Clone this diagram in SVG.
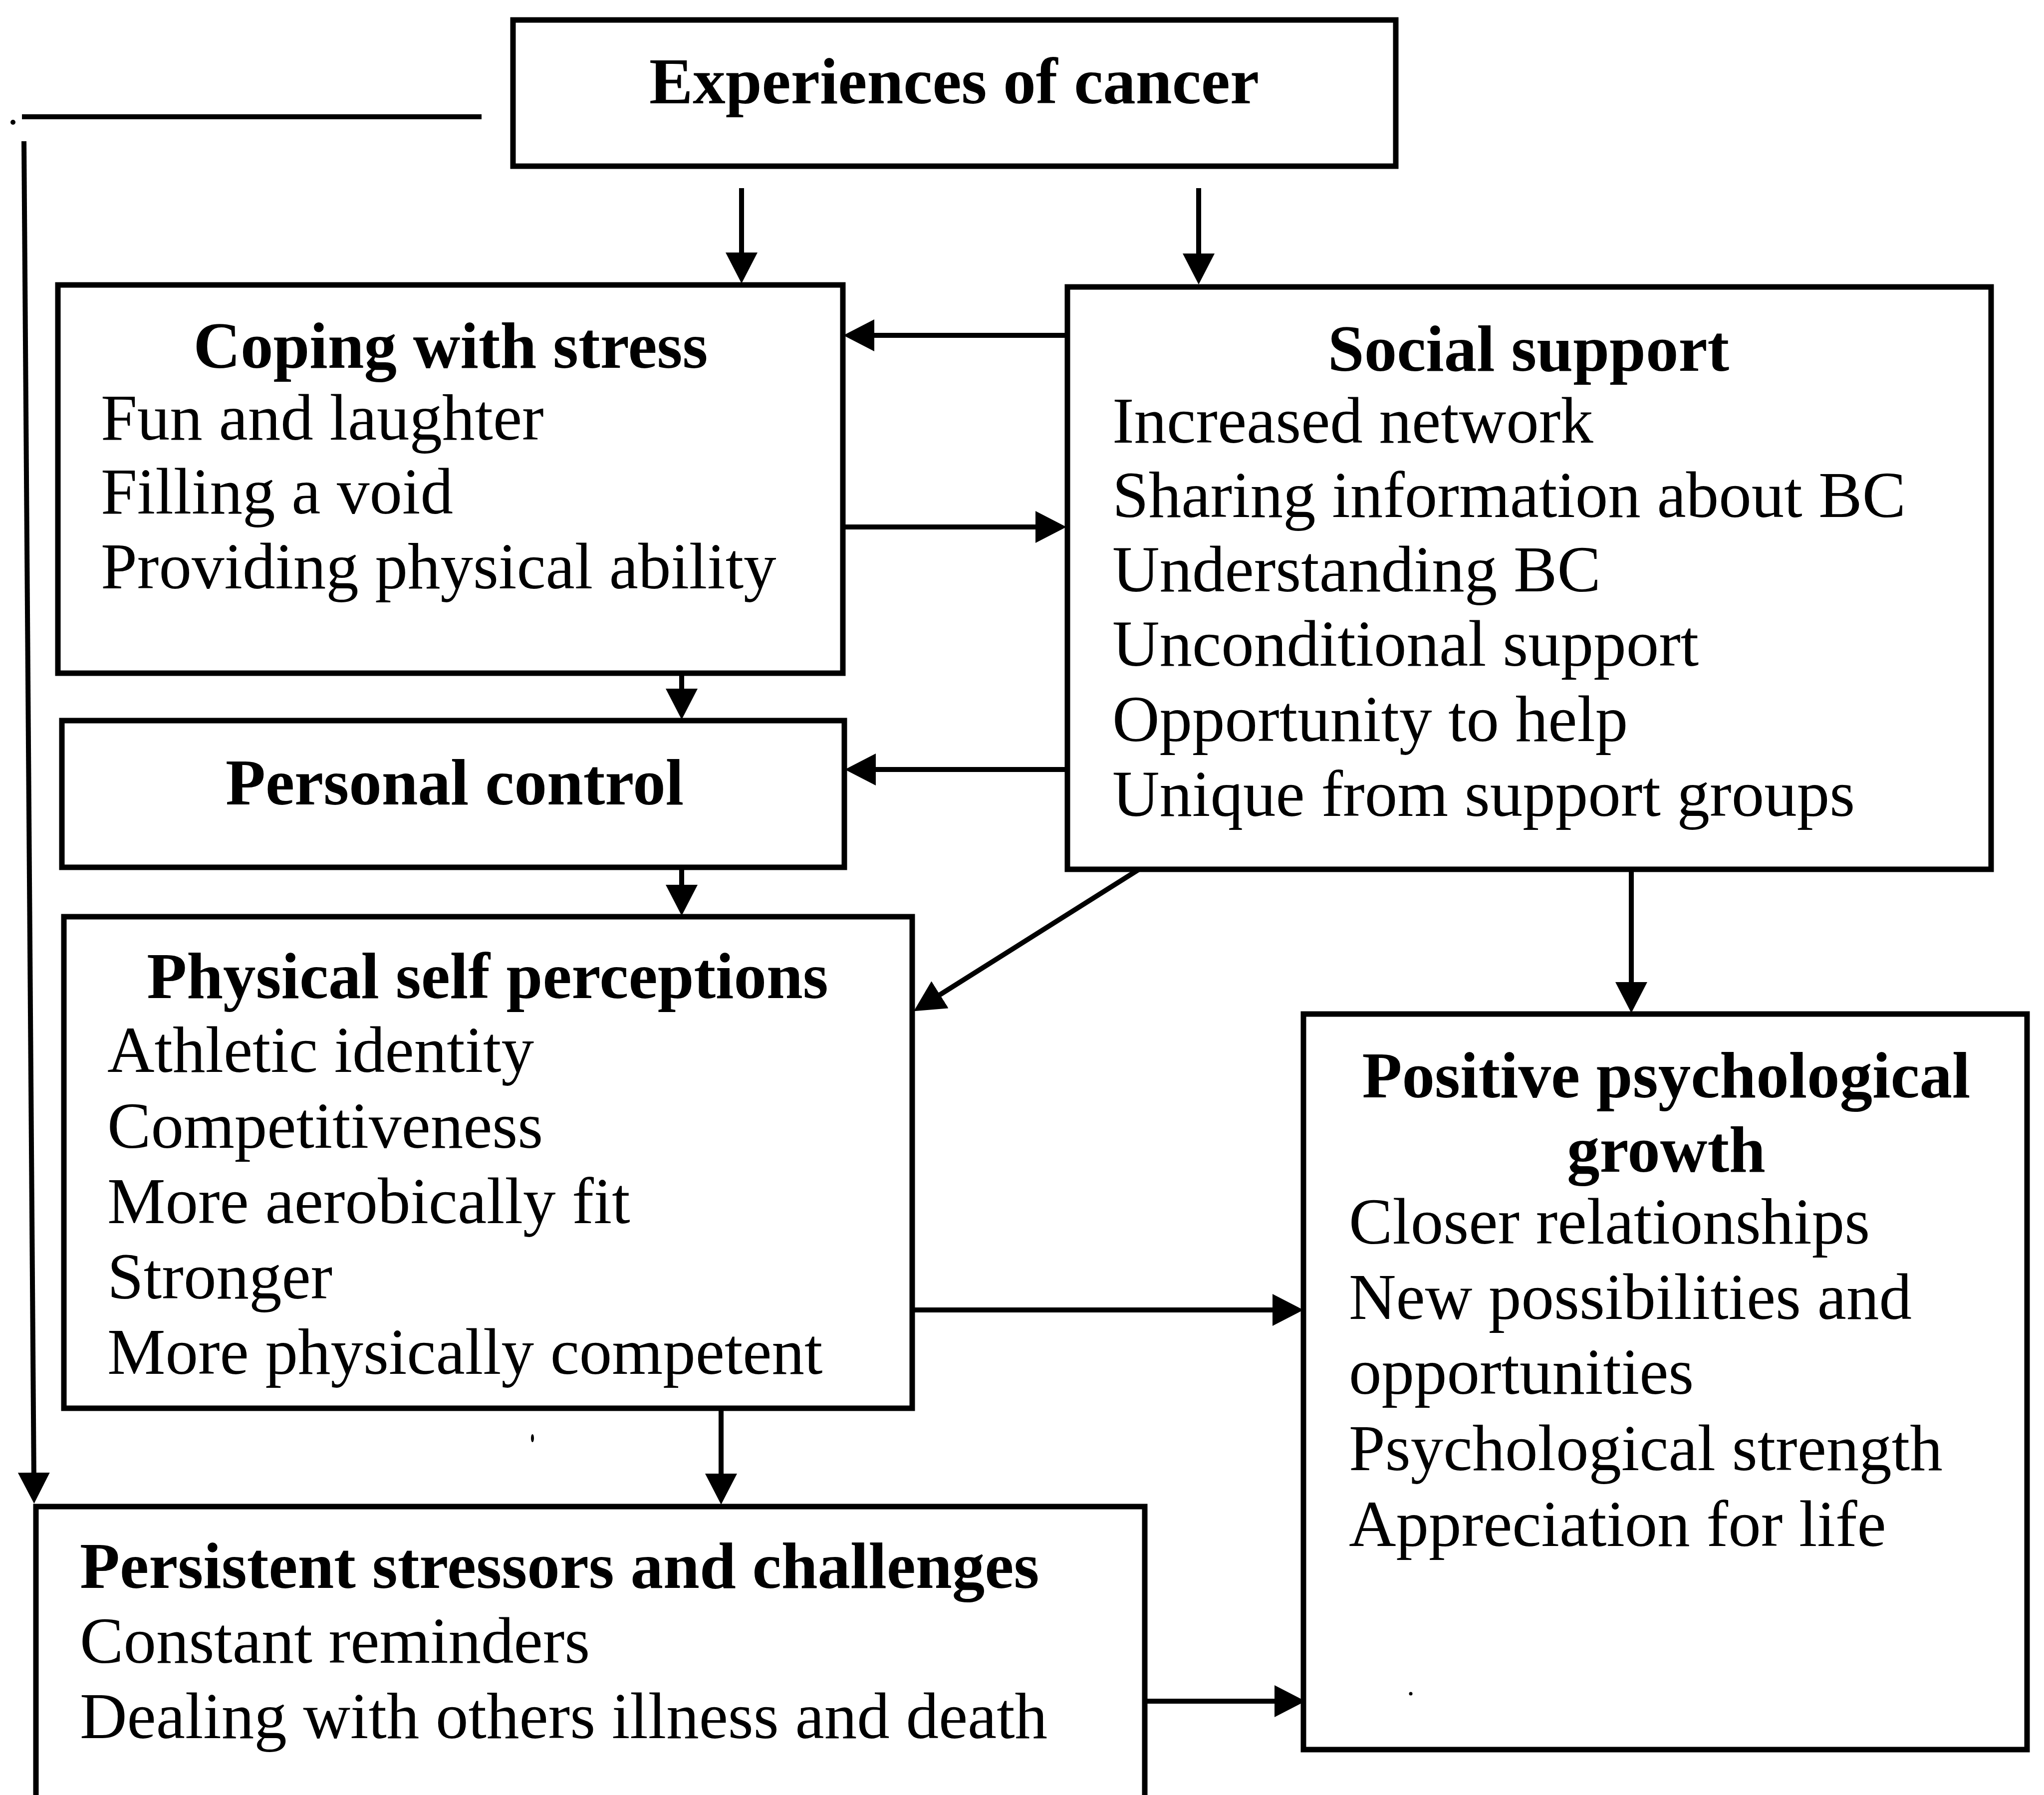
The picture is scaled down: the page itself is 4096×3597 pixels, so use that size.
<svg xmlns="http://www.w3.org/2000/svg" width="4096" height="3597" viewBox="0 0 4096 3597">
<style>
.box{fill:none;stroke:#000;stroke-width:11;stroke-linejoin:miter}
.con{fill:none;stroke:#000;stroke-width:10}
.arr{marker-end:url(#ah)}
text{font-family:"Liberation Serif","Times New Roman",serif;font-size:131px;fill:#000}
.t{font-weight:bold;text-anchor:middle}
.tl{font-weight:bold}
</style>
<defs>
<marker id="ah" markerUnits="userSpaceOnUse" viewBox="0 0 62 64" markerWidth="62" markerHeight="64" refX="22" refY="32" orient="auto">
<path d="M0,0 L62,32 L0,64 Z" fill="#000"/>
</marker>
</defs>
<rect width="4096" height="3597" fill="#fff"/>
<g id="connectors">
<line class="con arr" x1="1486" y1="377" x2="1486" y2="528"/>
<line class="con arr" x1="2402" y1="377" x2="2402" y2="530"/>
<line class="con arr" x1="2139" y1="672" x2="1730" y2="672"/>
<line class="con arr" x1="1688" y1="1056" x2="2097" y2="1056"/>
<line class="con arr" x1="1366" y1="1349" x2="1366" y2="1402"/>
<line class="con arr" x1="2143" y1="1542" x2="1733" y2="1542"/>
<line class="con arr" x1="1366" y1="1737" x2="1366" y2="1795"/>
<line class="con arr" x1="2281" y1="1743" x2="1865" y2="2005"/>
<line class="con arr" x1="3269" y1="1742" x2="3269" y2="1990"/>
<line class="con arr" x1="1827" y1="2625" x2="2572" y2="2625"/>
<line class="con arr" x1="1445" y1="2822" x2="1445" y2="2975"/>
<line class="con" x1="44" y1="234" x2="965" y2="234"/>
<line class="con arr" x1="48" y1="283" x2="68" y2="2973"/>
<line class="con arr" x1="2294" y1="3409" x2="2576" y2="3409"/>
<circle cx="26" cy="245" r="5" fill="#000"/>
<ellipse cx="1067" cy="2882" rx="3" ry="8" fill="#000"/>
<circle cx="2827" cy="3394" r="3.5" fill="#000"/>
</g>
<g id="experiences">
<rect class="box" x="1028" y="40" width="1769" height="293"/>
<text class="t" x="1912" y="207">Experiences of cancer</text>
</g>
<g id="coping">
<rect class="box" x="116" y="571" width="1573" height="778"/>
<text class="t" x="903" y="737">Coping with stress</text>
<text x="202" y="881">Fun and laughter</text>
<text x="202" y="1029">Filling a void</text>
<text x="202" y="1179">Providing physical ability</text>
</g>
<g id="social">
<rect class="box" x="2139" y="575" width="1851" height="1167"/>
<text class="t" x="3063" y="743">Social support</text>
<text x="2229" y="887">Increased network</text>
<text x="2229" y="1036">Sharing information about BC</text>
<text x="2229" y="1185">Understanding BC</text>
<text x="2229" y="1334">Unconditional support</text>
<text x="2229" y="1485">Opportunity to help</text>
<text x="2229" y="1635">Unique from support groups</text>
</g>
<g id="personal">
<rect class="box" x="124" y="1444" width="1568" height="294"/>
<text class="t" x="911" y="1612">Personal control</text>
</g>
<g id="physical">
<rect class="box" x="128" y="1837" width="1700" height="985"/>
<text class="t" x="977" y="2000">Physical self perceptions</text>
<text x="215" y="2148">Athletic identity</text>
<text x="215" y="2300">Competitiveness</text>
<text x="215" y="2451">More aerobically fit</text>
<text x="215" y="2602">Stronger</text>
<text x="215" y="2753">More physically competent</text>
</g>
<g id="positive">
<rect class="box" x="2612" y="2032" width="1450" height="1474"/>
<text class="t" x="3339" y="2199">Positive psychological</text>
<text class="t" x="3339" y="2348">growth</text>
<text x="2703" y="2492">Closer relationships</text>
<text x="2703" y="2643">New possibilities and</text>
<text x="2703" y="2793">opportunities</text>
<text x="2703" y="2946">Psychological strength</text>
<text x="2703" y="3098">Appreciation for life</text>
</g>
<g id="persistent">
<path class="box" d="M72,3620 V3019 H2294 V3620"/>
<text class="tl" x="160" y="3182">Persistent stressors and challenges</text>
<text x="160" y="3332">Constant reminders</text>
<text x="160" y="3483">Dealing with others illness and death</text>
</g>
</svg>
